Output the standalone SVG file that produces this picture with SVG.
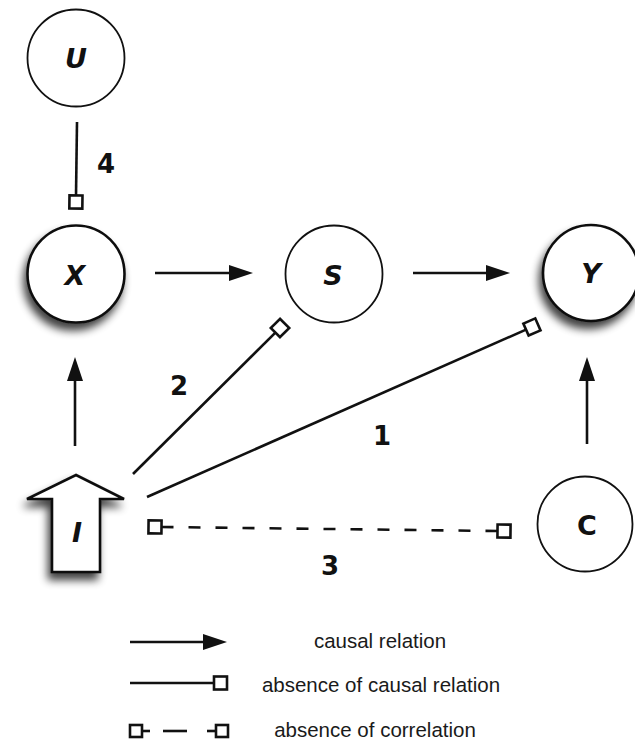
<svg xmlns="http://www.w3.org/2000/svg" width="635" height="740" viewBox="0 0 635 740">
<style>
  .node { fill: #fff; stroke: #111; stroke-width: 1.8; }
  .node.thick { stroke-width: 2.6; }
  .lbl { font-family: "DejaVu Sans", "Liberation Sans", sans-serif; font-weight: bold; font-style: italic; font-size: 27px; fill: #111; text-anchor: middle; }
  .num { font-family: "DejaVu Sans", "Liberation Sans", sans-serif; font-weight: bold; font-size: 26px; fill: #111; text-anchor: middle; }
  .legend { font-family: "Liberation Sans", Arial, sans-serif; font-size: 20.5px; fill: #1a1a1a; text-anchor: middle; }
  .edge { stroke: #111; stroke-width: 2.6; fill: none; }
  .arrow { marker-end: url(#arrowhead); }
  .nocause { marker-end: url(#sq); }
  .nocorr { stroke-dasharray: 12 15; marker-start: url(#sq); marker-end: url(#sq); }
</style>
<defs>
  <marker id="arrowhead" markerUnits="userSpaceOnUse" markerWidth="24" markerHeight="16" refX="14" refY="8" orient="auto" overflow="visible">
    <path d="M0,0 L24,8 L0,16 z" fill="#111"/>
  </marker>
  <marker id="sq" markerUnits="userSpaceOnUse" markerWidth="16" markerHeight="16" refX="1.5" refY="8" orient="auto-start-reverse" overflow="visible">
    <rect x="1.5" y="1.5" width="13" height="13" fill="#fff" stroke="#111" stroke-width="2.6"/>
  </marker>
  <filter id="shadow" x="-40%" y="-40%" width="180%" height="180%">
    <feGaussianBlur in="SourceAlpha" stdDeviation="4"/>
    <feOffset dx="-3" dy="7" result="b"/>
    <feComponentTransfer><feFuncA type="linear" slope="0.75"/></feComponentTransfer>
    <feMerge><feMergeNode/><feMergeNode in="SourceGraphic"/></feMerge>
  </filter>
</defs>

<g id="connectors">
  <line class="edge arrow" x1="155" y1="273" x2="243" y2="273"/>
  <line class="edge arrow" x1="413" y1="273" x2="500" y2="273"/>
  <line class="edge arrow" x1="75" y1="446" x2="75" y2="367"/>
  <line class="edge arrow" x1="587" y1="444" x2="587" y2="367"/>
  <line class="edge nocause" x1="77" y1="122" x2="76" y2="195.5"/>
  <line class="edge nocause" x1="133" y1="474" x2="275.4" y2="332.6"/>
  <line class="edge nocause" x1="147" y1="497" x2="526" y2="329.6"/>
  <line class="edge nocorr" x1="161.5" y1="527" x2="497.5" y2="531"/>
</g>

<g id="U"><circle class="node" cx="76" cy="58" r="48.5"/><text class="lbl" x="76" y="68">U</text></g>
<g id="X"><circle class="node thick" cx="76" cy="274" r="48.5" filter="url(#shadow)"/><text class="lbl" x="75" y="285">X</text></g>
<g id="S"><circle class="node" cx="334" cy="274" r="48.5"/><text class="lbl" x="333" y="285">S</text></g>
<g id="Y"><circle class="node thick" cx="591" cy="273" r="48" filter="url(#shadow)"/><text class="lbl" x="591" y="283">Y</text></g>
<g id="I"><polygon class="node thick" points="76,475 124,499 100,499 100,572 52,572 52,499 27,499" filter="url(#shadow)"/><text class="lbl" x="77" y="542">I</text></g>
<g id="C"><circle class="node" cx="585" cy="524" r="47.5"/><text class="lbl" style="font-style:normal" x="587" y="535">C</text></g>

<g id="edge-labels">
  <text class="num" x="106" y="173">4</text>
  <text class="num" x="179" y="395">2</text>
  <text class="num" x="382" y="445">1</text>
  <text class="num" x="330" y="575">3</text>
</g>

<g id="legend">
  <line class="edge arrow" x1="130" y1="642" x2="217" y2="642"/>
  <text class="legend" x="380" y="648">causal relation</text>
  <line class="edge nocause" x1="130" y1="683" x2="214" y2="683"/>
  <text class="legend" x="381" y="692">absence of causal relation</text>
  <rect x="130" y="725" width="12" height="12" fill="#fff" stroke="#111" stroke-width="2.6"/>
  <line class="edge" x1="142" y1="731" x2="150" y2="731"/>
  <line class="edge" x1="163" y1="731" x2="187" y2="731"/>
  <line class="edge" x1="207" y1="731" x2="216" y2="731"/>
  <rect x="216" y="725" width="12" height="12" fill="#fff" stroke="#111" stroke-width="2.6"/>
  <text class="legend" x="375" y="737">absence of correlation</text>
</g>
</svg>
